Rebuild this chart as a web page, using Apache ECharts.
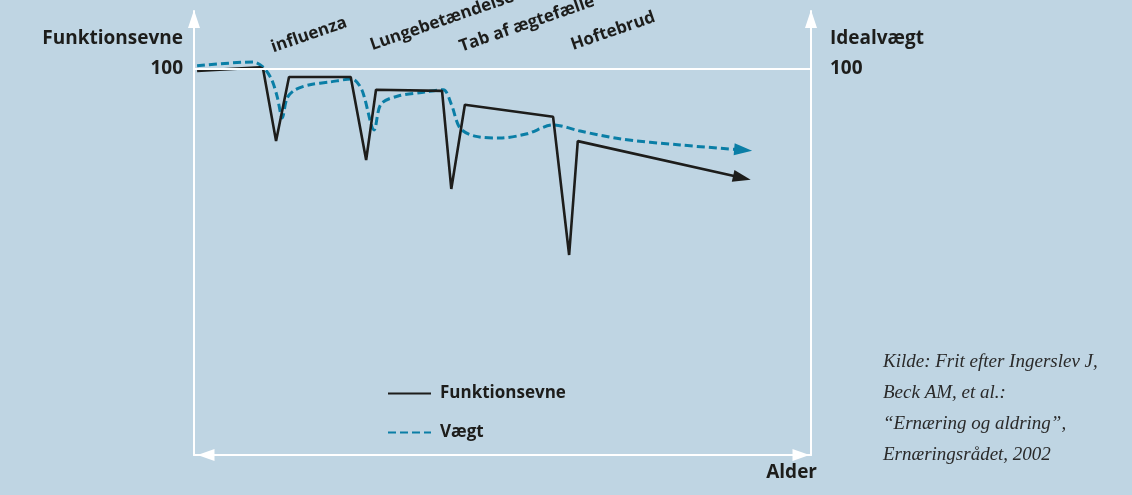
<!DOCTYPE html>
<html>
<head>
<meta charset="utf-8">
<script src="https://cdn.jsdelivr.net/npm/echarts@6/dist/echarts.min.js"></script>
<style>
  html, body { margin: 0; padding: 0; background: #bfd5e3; }
  #chart { width: 1132px; height: 495px; }
</style>
</head>
<body>
<div id="chart"></div>
<script>
// data: x = alder (0-100), y = index where 100 = ideal
var funktionsevne = [
    [0.5, 99.5], [10.7, 100.4], [11.2, 100.0], [13.3, 81.3], [15.4, 97.9],
    [25.4, 97.9], [27.9, 76.4], [29.5, 94.6], [40.2, 94.3], [41.7, 68.9],
    [43.9, 90.7], [58.2, 87.6], [60.8, 51.8], [62.2, 81.3], [88.8, 71.8]
];
var vaegt = [
    [0.5, 100.8], [9.6, 101.8], [11.3, 100.3], [12.6, 97.2], [13.5, 92.7],
    [14.3, 87.3], [15.1, 92.5], [16.4, 94.6], [18.8, 95.9], [22.0, 96.6],
    [25.6, 97.4], [27.2, 94.6], [29.2, 84.2], [30.3, 90.9], [33.1, 93.0],
    [37.4, 94.0], [40.4, 94.6], [41.7, 90.9], [43.1, 84.7], [45.5, 82.6],
    [49.6, 82.1], [54.0, 83.2], [58.2, 85.5], [62.6, 83.9], [69.0, 81.9],
    [78.8, 80.3], [89.0, 79.0]
];
var yTicks = [100];
var haendelser = ['influenza', 'Lungebetændelse', 'Tab af ægtefælle', 'Hoftebrud'];
var haendelsePos = [[309, 35], [442, 21], [527, 24], [613, 31]];
var kilde = [
    'Kilde: Frit efter Ingerslev J,',
    'Beck AM, et al.:',
    '\u201cErnæring og aldring\u201d,',
    'Ernæringsrådet, 2002'
];

var sort = '#1d1d1b';
var blaa = '#0a7ea6';
var hvid = '#ffffff';
var sans = '"Open Sans", "Noto Sans", sans-serif';

// pilespids paa sidste punkt
function medPil(points, color, rot) {
    return points.map(function (p, i) {
        if (i < points.length - 1) return p;
        return {
            value: p,
            symbol: 'triangle',
            symbolSize: [12, 18],
            symbolRotate: rot,
            itemStyle: { color: color }
        };
    });
}

var myChart = echarts.init(document.getElementById('chart'));

var graphics = [
    { type: 'text', x: 183, y: 39, style: { text: 'Funktionsevne', align: 'right', verticalAlign: 'middle', font: 'bold 19px ' + sans, fill: sort } },
    { type: 'text', x: 830, y: 39, style: { text: 'Idealvægt', align: 'left', verticalAlign: 'middle', font: 'bold 19px ' + sans, fill: sort } },
    { type: 'text', x: 817, y: 473, style: { text: 'Alder', align: 'right', verticalAlign: 'middle', font: 'bold 19px ' + sans, fill: sort } },
    { type: 'text', x: 883, y: 346, style: { text: kilde.join('\n'), align: 'left', verticalAlign: 'top', lineHeight: 31, font: 'italic 19px "Liberation Serif", serif', fill: '#2a2a2a' } }
];
haendelser.forEach(function (t, i) {
    graphics.push({
        type: 'text',
        x: haendelsePos[i][0],
        y: haendelsePos[i][1],
        rotation: 19 * Math.PI / 180,
        style: { text: t, align: 'center', verticalAlign: 'middle', font: 'bold 17px ' + sans, fill: sort }
    });
});

var option = {
    backgroundColor: '#bfd5e3',
    animation: false,
    grid: { left: 194, right: 321, top: 11, bottom: 40 },
    legend: {
        left: 382,
        top: 380,
        orient: 'vertical',
        itemWidth: 43,
        itemHeight: 14,
        itemGap: 22,
        itemStyle: { opacity: 0 },
        textStyle: { fontFamily: sans, fontWeight: 'bold', fontSize: 17, color: sort, padding: [0, 0, 0, 4] },
        data: ['Funktionsevne', 'Vægt']
    },
    xAxis: {
        type: 'value',
        min: 0,
        max: 100,
        axisLine: {
            onZero: false,
            symbol: ['triangle', 'triangle'],
            symbolSize: [12, 17],
            symbolOffset: [12, -10],
            lineStyle: { color: hvid, width: 2 }
        },
        axisTick: { show: false },
        axisLabel: { show: false },
        splitLine: { show: false }
    },
    yAxis: [0, 1].map(function (k) {
        return {
            type: 'value',
            min: 0,
            max: 115,
            interval: 100,
            position: k === 0 ? 'left' : 'right',
            axisLine: {
                show: true,
                onZero: false,
                symbol: ['none', 'triangle'],
                symbolSize: [12, 18],
                symbolOffset: [0, -8],
                lineStyle: { color: hvid, width: 2 }
            },
            axisTick: { show: false },
            splitLine: { show: false },
            axisLabel: {
                margin: k === 0 ? 11 : 19,
                padding: [0, 0, 9, 0],
                fontFamily: sans,
                fontWeight: 'bold',
                fontSize: 19,
                color: sort,
                formatter: function (v) { return yTicks.indexOf(v) >= 0 ? String(v) : ''; }
            }
        };
    }),
    series: [
        {
            name: 'Funktionsevne',
            type: 'line',
            symbol: 'none',
            z: 3,
            data: medPil(funktionsevne, sort, -102.7),
            lineStyle: { color: sort, width: 2.6 },
            itemStyle: { color: sort },
            markLine: {
                silent: true,
                symbol: ['none', 'none'],
                label: { show: false },
                lineStyle: { color: hvid, width: 2, type: 'solid' },
                data: [{ yAxis: 100 }]
            }
        },
        {
            name: 'Vægt',
            type: 'line',
            symbol: 'none',
            smooth: 0.3,
            z: 2,
            data: medPil(vaegt, blaa, -94.8),
            lineStyle: { color: blaa, width: 3, type: [8, 4] },
            itemStyle: { color: blaa }
        }
    ],
    graphic: graphics
};

myChart.setOption(option);
</script>
</body>
</html>
